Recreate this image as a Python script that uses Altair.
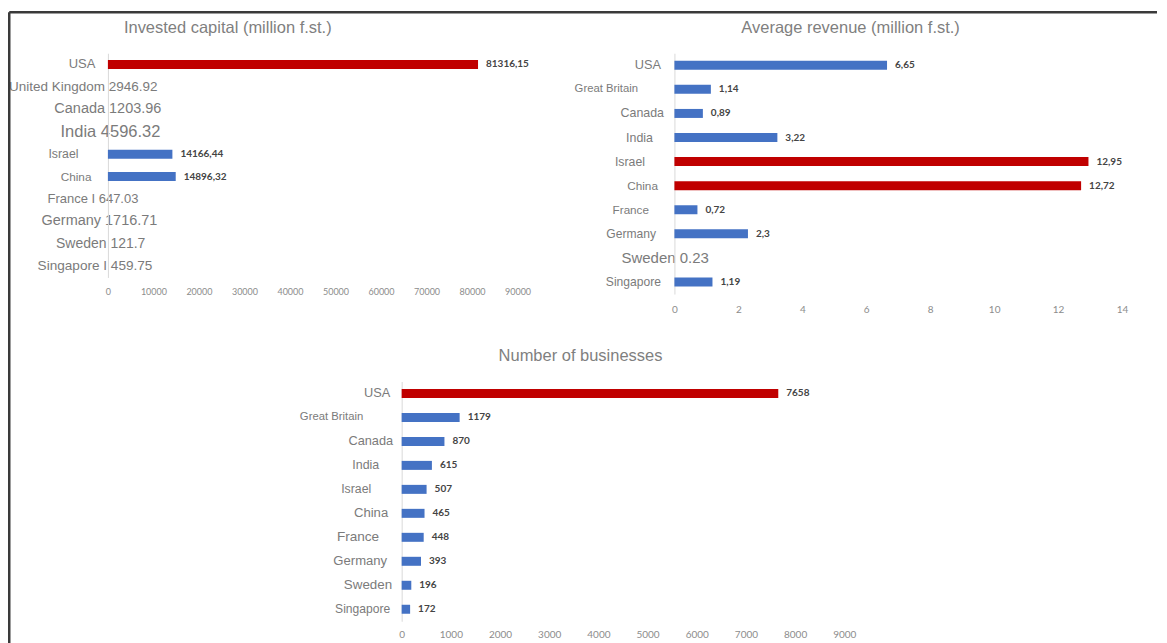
import json
import altair as alt
import pandas as pd

RED = "#C00000"
BLUE = "#4472C4"
LABEL_GRAY = "#7b7b7b"
TICK_GRAY = "#8c8c8c"
NAR = "Liberation Sans Narrow, Arial Narrow, Liberation Sans, Arial, sans-serif"
REG = "Liberation Sans, Arial, sans-serif"

# ---------------- data ----------------
capital_names = ["USA", "United Kingdom", "Canada", "India", "Israel", "China",
                 "France I", "Germany", "Sweden", "Singapore I"]
capital_values = [81316.15, 2946.92, 1203.96, 4596.32, 14166.44, 14896.32,
                  647.03, 1716.71, 121.7, 459.75]
capital_has_bar = [True, False, False, False, True, True, False, False, False, False]
capital_highlight = [True, False, False, False, False, False, False, False, False, False]
capital_ticks = [0, 10000, 20000, 30000, 40000, 50000, 60000, 70000, 80000, 90000]

revenue_names = ["USA", "Great Britain", "Canada", "India", "Israel", "China",
                 "France", "Germany", "Sweden", "Singapore"]
revenue_values = [6.65, 1.14, 0.89, 3.22, 12.95, 12.72, 0.72, 2.3, 0.23, 1.19]
revenue_has_bar = [True, True, True, True, True, True, True, True, False, True]
revenue_highlight = [False, False, False, False, True, True, False, False, False, False]
revenue_ticks = [0, 2, 4, 6, 8, 10, 12, 14]

business_names = ["USA", "Great Britain", "Canada", "India", "Israel", "China",
                  "France", "Germany", "Sweden", "Singapore"]
business_values = [7658, 1179, 870, 615, 507, 465, 448, 393, 196, 172]
business_has_bar = [True] * 10
business_highlight = [True, False, False, False, False, False, False, False, False, False]
business_ticks = [0, 1000, 2000, 3000, 4000, 5000, 6000, 7000, 8000, 9000]

# label styles (font, size, padding) per row, in row order
capital_label_style = [(REG, 13, 13), (REG, 13.5, -49), (REG, 14.5, -53), (REG, 16.5, -52),
                       (NAR, 12.3, 30), (NAR, 11.8, 17), (REG, 13, -30), (REG, 14.5, -49),
                       (REG, 14, -37), (NAR, 13.6, -44)]
revenue_label_style = [(NAR, 12.8, 14), (NAR, 11.3, 37), (NAR, 12.4, 11), (NAR, 12.4, 22),
                       (NAR, 12.3, 30), (NAR, 11.8, 17), (NAR, 11.7, 26), (NAR, 12.1, 19),
                       (REG, 15, -34), (NAR, 12.1, 14)]
business_label_style = [(NAR, 12.8, 12), (NAR, 11.3, 39), (NAR, 12.8, 9), (NAR, 12.4, 23),
                        (NAR, 12.3, 31), (NAR, 13.1, 14), (NAR, 13.6, 23), (NAR, 13.1, 15),
                        (NAR, 13.4, 10), (NAR, 12.1, 12)]


def make_table(names, values, has_bar, highlight):
    labels = [n if b else f"{n} {v}" for n, v, b in zip(names, values, has_bar)]
    txt = [str(v).replace(".", ",") for v in values]
    df = pd.DataFrame({"label": labels, "value": values, "bar": has_bar,
                       "hl": highlight, "txt": txt})
    return df, labels


def cond(labels, vals):
    conds = [{"test": "datum.value === " + json.dumps(l), "value": v}
             for l, v in zip(labels[1:], vals[1:])]
    return {"condition": conds, "value": vals[0]}


def panel(names, values, has_bar, highlight, styles, domain, ticks, width, height,
          title, title_dx, tick_size=10, xrange=None, yoffset=0, tick_pad=10):
    df, labels = make_table(names, values, has_bar, highlight)
    fonts = [s[0] for s in styles]
    sizes = [s[1] for s in styles]
    pads = [s[2] for s in styles]
    if xrange is not None:
        xscale = alt.Scale(domain=domain, nice=False, zero=True, range=xrange)
    else:
        xscale = alt.Scale(domain=domain, nice=False, zero=True)
    x_enc = alt.X("value:Q", scale=xscale,
                  axis=alt.Axis(values=ticks, format="d", grid=False, domain=False,
                                ticks=False, tickSize=0, labelPadding=tick_pad,
                                labelFont="Lato", labelFontSize=tick_size,
                                labelColor=TICK_GRAY, title=None, labelFlush=False,
                                labelOverlap=False))
    y_enc = alt.Y("label:N", sort=None,
                  scale=alt.Scale(domain=labels, paddingInner=0, paddingOuter=0),
                  axis=alt.Axis(title=None, ticks=False, domain=True,
                                domainColor="#d9d9d9", domainWidth=1,
                                labelColor=LABEL_GRAY, labelLimit=0,
                                offset=yoffset,
                                labelFont=cond(labels, fonts),
                                labelFontSize=cond(labels, sizes),
                                labelPadding=cond(labels, pads)))
    base = alt.Chart(df)
    bars = base.mark_bar(size=9).encode(
        x=x_enc, y=y_enc,
        color=alt.condition("datum.hl", alt.value(RED), alt.value(BLUE)),
    ).transform_filter("datum.bar")
    texts = base.mark_text(align="left", baseline="middle", dx=8, font="Lato",
                           fontSize=10, fontWeight="bold", color="#444444").encode(
        x=x_enc, y=y_enc, text="txt:N"
    ).transform_filter("datum.bar")
    return alt.layer(bars, texts).properties(
        width=width, height=height,
        title=alt.TitleParams(title, anchor="start", frame="group", dx=title_dx,
                              offset=1, baseline="bottom", fontSize=16.5,
                              font=REG, fontWeight="normal", color="#7f7f7f"),
    )


A = panel(capital_names, capital_values, capital_has_bar, capital_highlight,
          capital_label_style, [0, 90000], capital_ticks, 410, 224.4,
          "Invested capital (million f.st.)", 16, tick_size=9)
B = panel(revenue_names, revenue_values, revenue_has_bar, revenue_highlight,
          revenue_label_style, [0, 14], revenue_ticks, 448, 241,
          "Average revenue (million f.st.)", 67)
C = panel(business_names, business_values, business_has_bar, business_highlight,
          business_label_style, [0, 9000], business_ticks, 410, 240,
          "Number of businesses", 391, xrange=[294, 737], yoffset=-294, tick_pad=8)

# decorative dark frame (left and top edges of the picture)
frame_df = pd.DataFrame({"f": [0]})
frame_left = alt.Chart(frame_df).mark_rule(color="#3a3a3a", strokeWidth=2.5).encode(
    x=alt.value(-665.75), y=alt.value(-369.5), y2=alt.value(264))
frame_top = alt.Chart(frame_df).mark_rule(color="#3a3a3a", strokeWidth=2.5).encode(
    x=alt.value(-665.75), x2=alt.value(483), y=alt.value(-369.5))
D = alt.layer(frame_left, frame_top).properties(width=1, height=1)

chart = alt.concat(A, B, C, D, columns=2, spacing={"row": 87.5, "column": 157},
                   bounds="flush", align="each").properties(
    padding={"left": 0, "right": 0, "top": 2, "bottom": 0},
    background="white",
).configure_view(stroke=None)

chart.save("out.html", embed_options={"renderer": "svg", "actions": False})
